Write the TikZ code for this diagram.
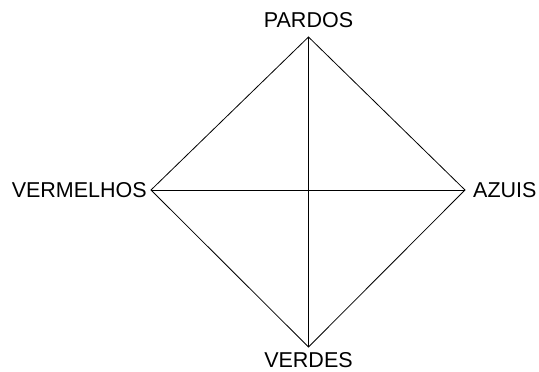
\documentclass[tikz,border=0pt]{standalone}
\usepackage{fontspec}
\setmainfont{Liberation Sans}
\usetikzlibrary{positioning}
\begin{document}
\begin{tikzpicture}[
  x=1pt,y=1pt,
  every node/.style={font=\fontsize{21.5}{24}\selectfont,inner sep=0pt},
  edge/.style={black,line width=0.8pt,line join=miter}
]
\useasboundingbox (0,0) rectangle (539,372);
\coordinate (pardosv) at (308.5,335);
\coordinate (verdesv) at (308.5,25);
\coordinate (vermelhosv) at (151,182);
\coordinate (azuisv) at (465,182);
\node[above=9pt of pardosv] (pardos) {PARDOS};
\node[below=5pt of verdesv] (verdes) {VERDES};
\node[left=4pt of vermelhosv] (vermelhos) {VERMELHOS};
\node[right=8pt of azuisv] (azuis) {AZUIS};
\draw[edge] (pardosv) -- (azuisv) -- (verdesv) -- (vermelhosv) -- cycle;
\draw[edge] (pardosv) -- (verdesv);
\draw[edge] (vermelhosv) -- (azuisv);
\end{tikzpicture}
\end{document}
